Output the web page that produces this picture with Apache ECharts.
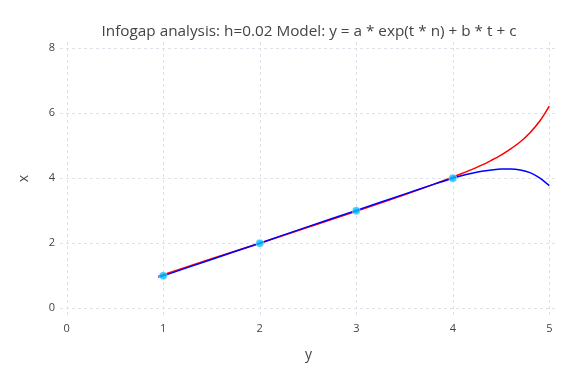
<!DOCTYPE html>
<html>
<head>
<meta charset="utf-8">
<script src="https://cdn.jsdelivr.net/npm/echarts@6/dist/echarts.min.js"></script>
<style>html,body{margin:0;padding:0;background:#fff}#c{width:576px;height:384px}</style>
</head>
<body>
<div id="c"></div>
<script>
const titleText = 'Infogap analysis: h=0.02 Model: y = a * exp(t * n) + b * t + c';
const xTicks = [0, 1, 2, 3, 4, 5];
const yTicks = [0, 2, 4, 6, 8];
const curveX = [0.95, 1.0, 1.5, 2.0, 2.5, 3.0, 3.5, 3.8, 4.0, 4.1, 4.2, 4.3, 4.4, 4.5, 4.6, 4.7, 4.8, 4.9, 5.0];
const redY   = [0.99, 1.03, 1.52, 2.00, 2.49, 2.98, 3.49, 3.81, 4.03, 4.15, 4.27, 4.40, 4.55, 4.71, 4.90, 5.12, 5.40, 5.75, 6.22];
const blueY  = [0.95, 0.995, 1.50, 2.00, 2.51, 3.01, 3.51, 3.81, 4.00, 4.08, 4.15, 4.21, 4.25, 4.28, 4.28, 4.25, 4.17, 4.01, 3.77];
const pointX = [1, 2, 3, 4];
const pointY = [1, 2, 3, 4];

const pair = (xs, ys) => xs.map((x, i) => [x, ys[i]]);
const font = '"Open Sans", sans-serif';
const chart = echarts.init(document.getElementById('c'), null, {renderer: 'canvas'});
const grid = {type: [3, 3], color: '#e0e0ea', width: 1};
chart.setOption({
  animation: false,
  title: {text: titleText, left: 304, top: 19, textAlign: 'center',
    textStyle: {fontFamily: font, fontSize: 15.3, fontWeight: 'normal', color: '#444'}},
  grid: {left: 60, right: 19, top: 42, bottom: 69},
  xAxis: {type: 'value', min: -0.07, max: 5.08,
    name: 'y', nameLocation: 'middle', nameGap: 33,
    nameTextStyle: {fontFamily: font, fontSize: 14, color: '#444'},
    axisLine: {show: false},
    axisTick: {show: false, customValues: xTicks},
    axisLabel: {customValues: xTicks, fontFamily: font, fontSize: 11, color: '#444', margin: 8},
    splitLine: {show: true, lineStyle: grid}},
  yAxis: {type: 'value', min: -0.21, max: 8.19,
    name: 'x', nameLocation: 'middle', nameGap: 29, nameRotate: 90,
    nameTextStyle: {fontFamily: font, fontSize: 14, color: '#444'},
    axisLine: {show: false},
    axisTick: {show: false, customValues: yTicks},
    axisLabel: {customValues: yTicks, fontFamily: font, fontSize: 11, color: '#444', margin: 5},
    splitLine: {show: true, lineStyle: grid}},
  series: [
    {type: 'line', data: pair(curveX, redY), smooth: 0.3, showSymbol: false,
      lineStyle: {color: '#ff0000', width: 1.5}, z: 2},
    {type: 'line', data: pair(curveX, blueY), smooth: 0.3, showSymbol: false,
      lineStyle: {color: '#0000ff', width: 1.5}, z: 3},
    {type: 'scatter', data: pair(pointX, pointY), symbolSize: 8,
      itemStyle: {color: '#00bfff', borderColor: '#ffffff', borderWidth: 0.5}, z: 4}
  ]
});
</script>
</body>
</html>
